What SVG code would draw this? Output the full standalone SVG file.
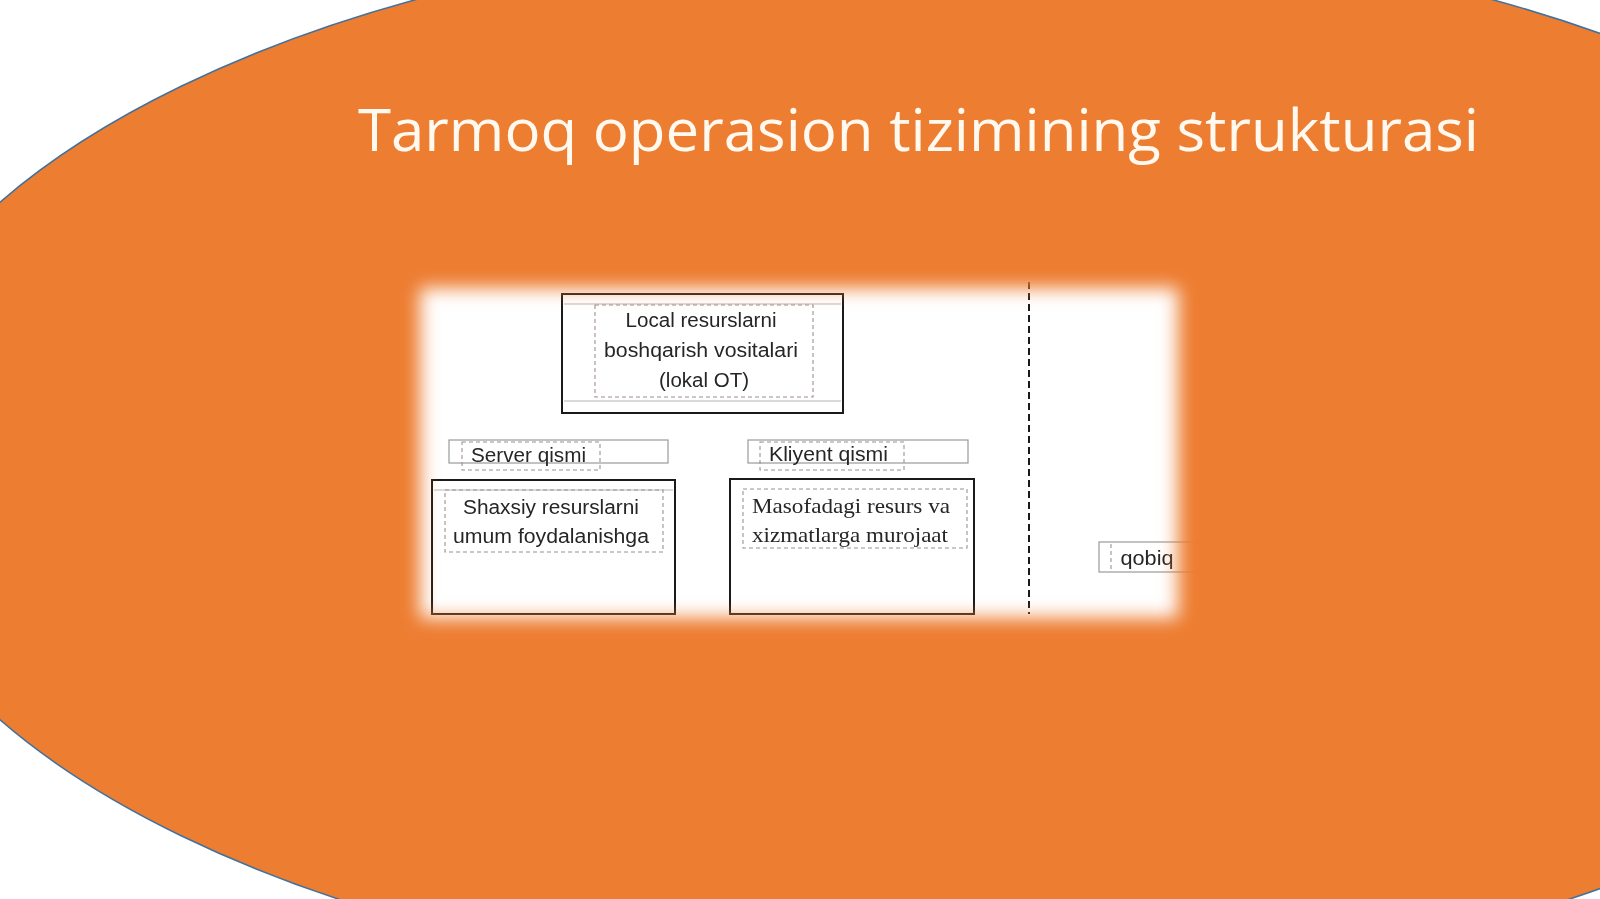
<svg xmlns="http://www.w3.org/2000/svg" width="1600" height="899" viewBox="0 0 1600 899">
<defs>
<filter id="soft" x="-10%" y="-20%" width="120%" height="140%"><feGaussianBlur stdDeviation="9"/></filter>
<mask id="panelMask" maskUnits="userSpaceOnUse" x="0" y="0" width="1600" height="899">
<rect x="420" y="288" width="758" height="330" fill="#fff" filter="url(#soft)"/>
</mask>
<style>
.t{font-family:"Liberation Sans","Open Sans",sans-serif;font-size:20px;fill:#262626;text-anchor:middle}
.tm{font-family:"Liberation Serif","Times New Roman",serif;font-size:21px;fill:#262626}
.outer{fill:none;stroke:#1a1a1a;stroke-width:2}
.thin{fill:none;stroke:#9a9a9a;stroke-width:1.2}
.dash{fill:none;stroke:#a09090;stroke-width:1.1;stroke-dasharray:4 3}
.inl{stroke:#b5b5b5;stroke-width:1.2}
</style>
</defs>
<rect width="1600" height="899" fill="#ffffff"/>
<ellipse id="background" cx="954" cy="461" rx="1093" ry="530" fill="#ED7D31" stroke="#41719C" stroke-width="1.5"/>
<text id="title" x="358" y="151" font-family="'Open Sans','Noto Sans',sans-serif" font-size="58" fill="#FFF9F0" textLength="1121" lengthAdjust="spacingAndGlyphs">Tarmoq operasion tizimining strukturasi</text>
<g id="panel" mask="url(#panelMask)">
<rect x="400" y="270" width="800" height="370" fill="#ffffff"/>
<g id="local-ot">
<rect class="outer" x="562" y="294" width="281" height="119"/>
<line class="inl" x1="564" y1="304" x2="841" y2="304"/>
<line class="inl" x1="564" y1="401" x2="841" y2="401"/>
<rect class="dash" x="595" y="305" width="218" height="92"/>
<text class="t" x="701" y="327" textLength="151" lengthAdjust="spacingAndGlyphs">Local resurslarni</text>
<text class="t" x="701" y="357" textLength="194" lengthAdjust="spacingAndGlyphs">boshqarish vositalari</text>
<text class="t" x="704" y="387" textLength="90" lengthAdjust="spacingAndGlyphs">(lokal OT)</text>
</g>
<g id="server-qismi">
<rect class="thin" x="449" y="440" width="219" height="23"/>
<rect class="dash" x="462" y="442" width="138" height="28"/>
<text class="t" x="528.5" y="462" textLength="115" lengthAdjust="spacingAndGlyphs">Server qismi</text>
</g>
<g id="kliyent-qismi">
<rect class="thin" x="748" y="440" width="220" height="23"/>
<rect class="dash" x="760" y="442" width="144" height="28"/>
<text class="t" x="828.5" y="461" textLength="119" lengthAdjust="spacingAndGlyphs">Kliyent qismi</text>
</g>
<g id="shaxsiy">
<rect class="outer" x="432" y="480" width="243" height="134"/>
<line class="inl" x1="434" y1="490" x2="673" y2="490"/>
<rect class="dash" x="445" y="490" width="218" height="62"/>
<text class="t" x="551" y="514" textLength="176" lengthAdjust="spacingAndGlyphs">Shaxsiy resurslarni</text>
<text class="t" x="551" y="543" textLength="196" lengthAdjust="spacingAndGlyphs">umum foydalanishga</text>
</g>
<g id="masofadagi">
<rect class="outer" x="730" y="479" width="244" height="135"/>
<rect class="dash" x="743" y="489" width="224" height="59"/>
<text class="tm" x="752" y="513" textLength="198" lengthAdjust="spacingAndGlyphs">Masofadagi resurs va</text>
<text class="tm" x="752" y="542" textLength="196" lengthAdjust="spacingAndGlyphs">xizmatlarga murojaat</text>
</g>
<g id="divider">
<line x1="1029" y1="282" x2="1029" y2="614" stroke="#1a1a1a" stroke-width="2" stroke-dasharray="7 4"/>
</g>
<g id="qobiq">
<rect class="thin" x="1099" y="542" width="120" height="30"/>
<line class="dash" x1="1111" y1="544" x2="1111" y2="570"/>
<text class="t" x="1147" y="565" textLength="53" lengthAdjust="spacingAndGlyphs">qobiq</text>
</g>
</g>
</svg>
